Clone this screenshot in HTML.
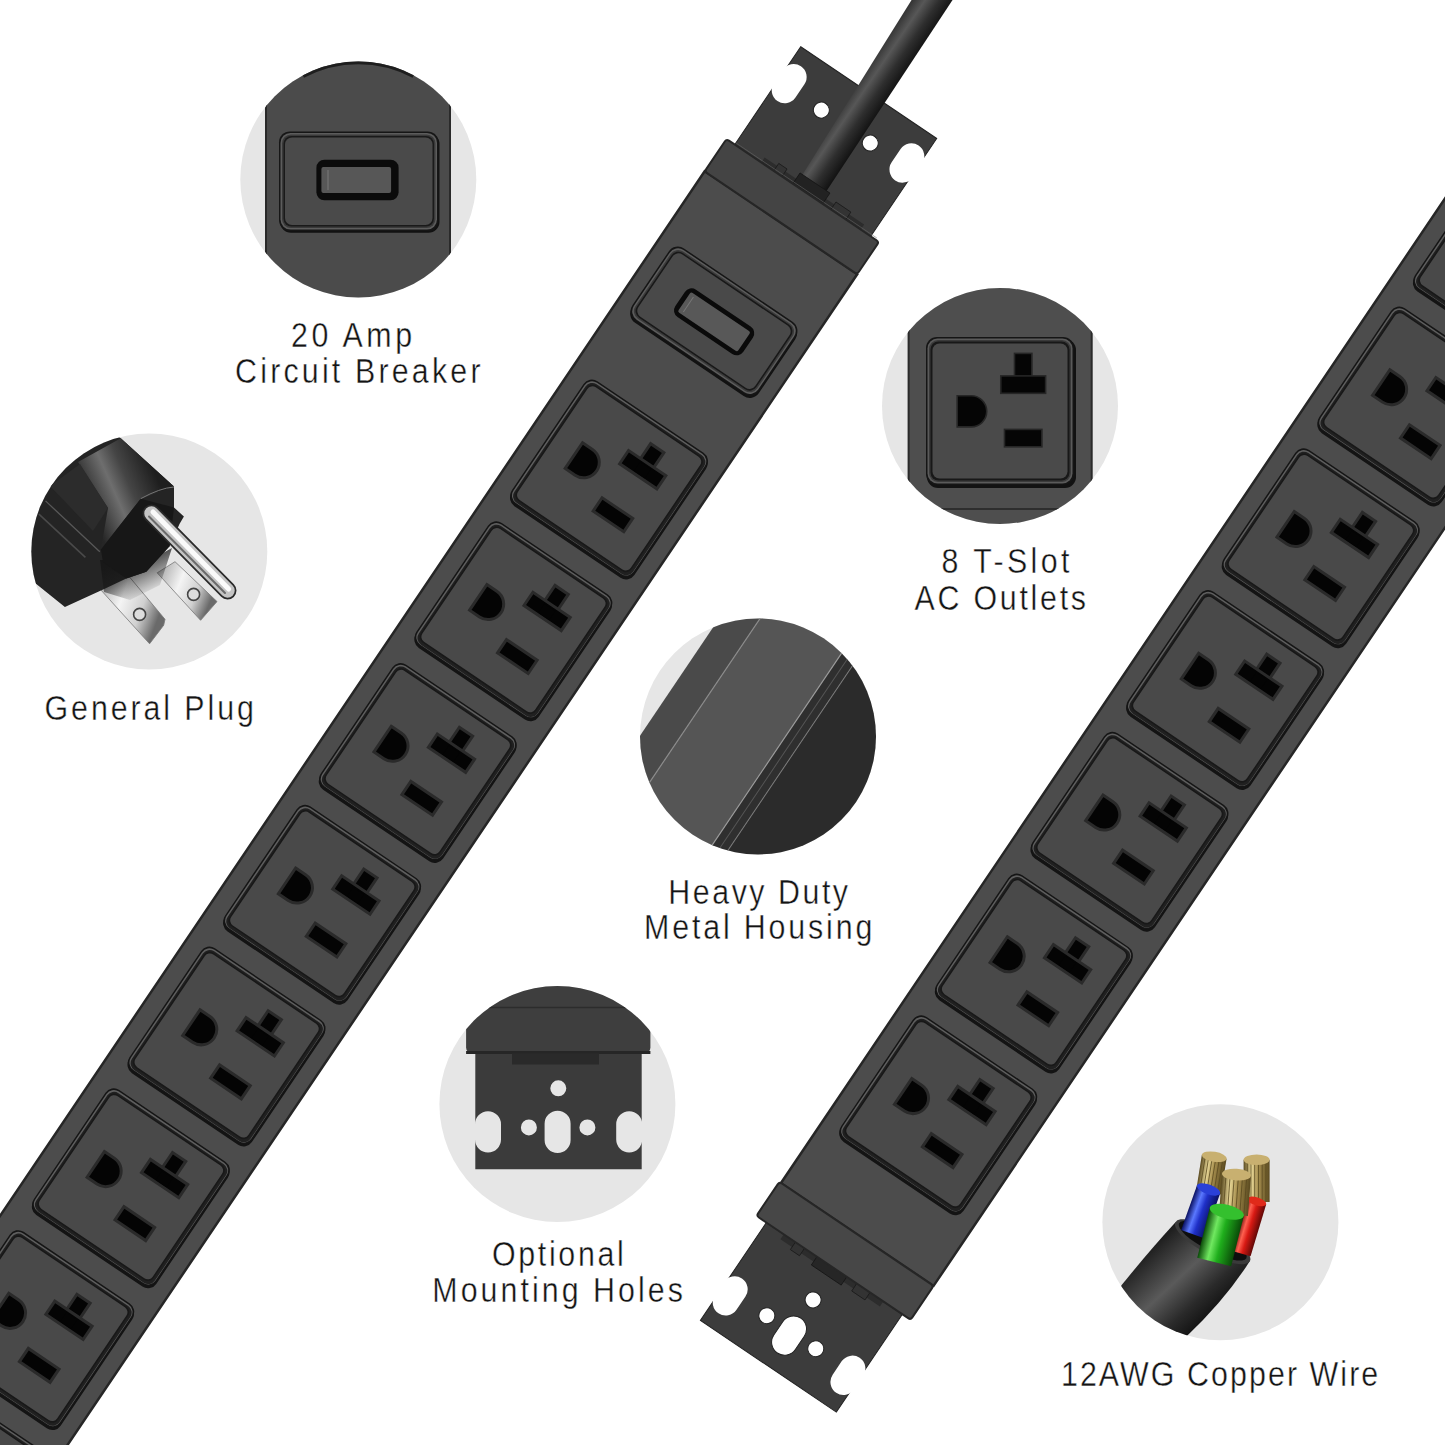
<!DOCTYPE html><html><head><meta charset="utf-8"><style>html,body{margin:0;padding:0;background:#fff;}body{width:1445px;height:1445px;overflow:hidden;font-family:"Liberation Sans",sans-serif;}svg{display:block}</style></head><body><svg width="1445" height="1445" viewBox="0 0 1445 1445">
<rect width="1445" height="1445" fill="#fff"/>
<defs><linearGradient id="cordg" x1="0" y1="0" x2="1" y2="0"><stop offset="0" stop-color="#151515"/><stop offset="0.12" stop-color="#2e2e2e"/><stop offset="0.42" stop-color="#575757"/><stop offset="0.7" stop-color="#2e2e2e"/><stop offset="1" stop-color="#121212"/></linearGradient></defs>
<g transform="rotate(34)">
<path d="M690.0,-409 H854.0 V-291 H690.0 Z M734.5,-368 a8,8 0 1 0 16,0 a8,8 0 1 0 -16,0 Z M793.5,-368 a8,8 0 1 0 16,0 a8,8 0 1 0 -16,0 Z" fill="#3c3c3c" fill-rule="evenodd" stroke="#222" stroke-width="1"/><path d=" M688.0,-380 a13,13 0 0 1 26,0 V-364 a13,13 0 0 1 -26,0 Z M830.0,-380 a13,13 0 0 1 26,0 V-364 a13,13 0 0 1 -26,0 Z" fill="#ffffff"/>
<path d="M763,-303 L749,-700 L788,-700 L792,-303 Z" fill="url(#cordg)"/>
<rect x="722" y="-297" width="120" height="6" fill="#2c2c2c"/>
<rect x="737" y="-300" width="10" height="9" fill="#333" stroke="#1a1a1a" stroke-width="0.8"/>
<rect x="760" y="-304" width="36" height="13" fill="#222" stroke="#151515" stroke-width="0.8"/>
<rect x="806" y="-300" width="18" height="9" fill="#333" stroke="#1a1a1a" stroke-width="0.8"/>
<line x1="690" y1="-293" x2="860" y2="-293" stroke="#6a6a6a" stroke-width="0.8" opacity="0.6"/>
<rect x="680" y="-252" width="184" height="1700" fill="#4c4c4c" stroke="#262626" stroke-width="2.5"/>
<rect x="680" y="-291" width="184" height="39" rx="3" fill="#444444" stroke="#262626" stroke-width="2"/>
<g transform="translate(772,-132.5)"><rect x="-76" y="-42" width="153" height="87" rx="11" fill="#121212"/><rect x="-77" y="-44" width="153" height="87" rx="11" fill="#151515"/><rect x="-75.5" y="-42.5" width="150" height="84" rx="10" fill="#5c5c5c"/><rect x="-74" y="-41" width="147" height="81" rx="9" fill="#3a3a3a"/><rect x="-72.5" y="-39.5" width="144" height="78" rx="8" fill="#181818"/><rect x="-71" y="-38" width="141" height="75" rx="7" fill="#494949"/><rect x="-41" y="-16.5" width="82" height="33" rx="8" fill="#0a0a0a"/><rect x="-36" y="-12" width="72" height="24" rx="2" fill="#585858"/><line x1="-31" y1="-9" x2="-31" y2="9" stroke="#777" stroke-width="1"/></g>
<g transform="translate(772.5,56) scale(1.0,1.0)"><rect x="-73" y="-72" width="148" height="148" rx="10" fill="#141414"/><rect x="-74" y="-74" width="148" height="148" rx="10" fill="#151515"/><rect x="-72.5" y="-72.5" width="145" height="145" rx="9" fill="#5e5e5e"/><rect x="-71" y="-71" width="143" height="143" rx="8" fill="#202020"/><rect x="-69.5" y="-69.5" width="139" height="139" rx="7" fill="#181818"/><rect x="-68" y="-68" width="136" height="136" rx="6" fill="#494949"/><path d="M-42,-14.7 h12 a15.5,15.5 0 0 1 0,31 h-12 z" fill="#040404" stroke="#2a2a2a" stroke-width="3"/><rect x="15" y="-52" width="16" height="23" fill="#040404" stroke="#2a2a2a" stroke-width="3"/><rect x="0.5" y="-34" width="45" height="16" fill="#040404" stroke="#2a2a2a" stroke-width="3"/><rect x="16.5" y="-31" width="13" height="11" fill="#040404"/><rect x="5" y="20" width="37" height="16" fill="#040404" stroke="#2a2a2a" stroke-width="3"/></g>
<g transform="translate(772.5,227) scale(1.0,1.0)"><rect x="-73" y="-72" width="148" height="148" rx="10" fill="#141414"/><rect x="-74" y="-74" width="148" height="148" rx="10" fill="#151515"/><rect x="-72.5" y="-72.5" width="145" height="145" rx="9" fill="#5e5e5e"/><rect x="-71" y="-71" width="143" height="143" rx="8" fill="#202020"/><rect x="-69.5" y="-69.5" width="139" height="139" rx="7" fill="#181818"/><rect x="-68" y="-68" width="136" height="136" rx="6" fill="#494949"/><path d="M-42,-14.7 h12 a15.5,15.5 0 0 1 0,31 h-12 z" fill="#040404" stroke="#2a2a2a" stroke-width="3"/><rect x="15" y="-52" width="16" height="23" fill="#040404" stroke="#2a2a2a" stroke-width="3"/><rect x="0.5" y="-34" width="45" height="16" fill="#040404" stroke="#2a2a2a" stroke-width="3"/><rect x="16.5" y="-31" width="13" height="11" fill="#040404"/><rect x="5" y="20" width="37" height="16" fill="#040404" stroke="#2a2a2a" stroke-width="3"/></g>
<g transform="translate(772.5,398) scale(1.0,1.0)"><rect x="-73" y="-72" width="148" height="148" rx="10" fill="#141414"/><rect x="-74" y="-74" width="148" height="148" rx="10" fill="#151515"/><rect x="-72.5" y="-72.5" width="145" height="145" rx="9" fill="#5e5e5e"/><rect x="-71" y="-71" width="143" height="143" rx="8" fill="#202020"/><rect x="-69.5" y="-69.5" width="139" height="139" rx="7" fill="#181818"/><rect x="-68" y="-68" width="136" height="136" rx="6" fill="#494949"/><path d="M-42,-14.7 h12 a15.5,15.5 0 0 1 0,31 h-12 z" fill="#040404" stroke="#2a2a2a" stroke-width="3"/><rect x="15" y="-52" width="16" height="23" fill="#040404" stroke="#2a2a2a" stroke-width="3"/><rect x="0.5" y="-34" width="45" height="16" fill="#040404" stroke="#2a2a2a" stroke-width="3"/><rect x="16.5" y="-31" width="13" height="11" fill="#040404"/><rect x="5" y="20" width="37" height="16" fill="#040404" stroke="#2a2a2a" stroke-width="3"/></g>
<g transform="translate(772.5,569) scale(1.0,1.0)"><rect x="-73" y="-72" width="148" height="148" rx="10" fill="#141414"/><rect x="-74" y="-74" width="148" height="148" rx="10" fill="#151515"/><rect x="-72.5" y="-72.5" width="145" height="145" rx="9" fill="#5e5e5e"/><rect x="-71" y="-71" width="143" height="143" rx="8" fill="#202020"/><rect x="-69.5" y="-69.5" width="139" height="139" rx="7" fill="#181818"/><rect x="-68" y="-68" width="136" height="136" rx="6" fill="#494949"/><path d="M-42,-14.7 h12 a15.5,15.5 0 0 1 0,31 h-12 z" fill="#040404" stroke="#2a2a2a" stroke-width="3"/><rect x="15" y="-52" width="16" height="23" fill="#040404" stroke="#2a2a2a" stroke-width="3"/><rect x="0.5" y="-34" width="45" height="16" fill="#040404" stroke="#2a2a2a" stroke-width="3"/><rect x="16.5" y="-31" width="13" height="11" fill="#040404"/><rect x="5" y="20" width="37" height="16" fill="#040404" stroke="#2a2a2a" stroke-width="3"/></g>
<g transform="translate(772.5,740) scale(1.0,1.0)"><rect x="-73" y="-72" width="148" height="148" rx="10" fill="#141414"/><rect x="-74" y="-74" width="148" height="148" rx="10" fill="#151515"/><rect x="-72.5" y="-72.5" width="145" height="145" rx="9" fill="#5e5e5e"/><rect x="-71" y="-71" width="143" height="143" rx="8" fill="#202020"/><rect x="-69.5" y="-69.5" width="139" height="139" rx="7" fill="#181818"/><rect x="-68" y="-68" width="136" height="136" rx="6" fill="#494949"/><path d="M-42,-14.7 h12 a15.5,15.5 0 0 1 0,31 h-12 z" fill="#040404" stroke="#2a2a2a" stroke-width="3"/><rect x="15" y="-52" width="16" height="23" fill="#040404" stroke="#2a2a2a" stroke-width="3"/><rect x="0.5" y="-34" width="45" height="16" fill="#040404" stroke="#2a2a2a" stroke-width="3"/><rect x="16.5" y="-31" width="13" height="11" fill="#040404"/><rect x="5" y="20" width="37" height="16" fill="#040404" stroke="#2a2a2a" stroke-width="3"/></g>
<g transform="translate(772.5,911) scale(1.0,1.0)"><rect x="-73" y="-72" width="148" height="148" rx="10" fill="#141414"/><rect x="-74" y="-74" width="148" height="148" rx="10" fill="#151515"/><rect x="-72.5" y="-72.5" width="145" height="145" rx="9" fill="#5e5e5e"/><rect x="-71" y="-71" width="143" height="143" rx="8" fill="#202020"/><rect x="-69.5" y="-69.5" width="139" height="139" rx="7" fill="#181818"/><rect x="-68" y="-68" width="136" height="136" rx="6" fill="#494949"/><path d="M-42,-14.7 h12 a15.5,15.5 0 0 1 0,31 h-12 z" fill="#040404" stroke="#2a2a2a" stroke-width="3"/><rect x="15" y="-52" width="16" height="23" fill="#040404" stroke="#2a2a2a" stroke-width="3"/><rect x="0.5" y="-34" width="45" height="16" fill="#040404" stroke="#2a2a2a" stroke-width="3"/><rect x="16.5" y="-31" width="13" height="11" fill="#040404"/><rect x="5" y="20" width="37" height="16" fill="#040404" stroke="#2a2a2a" stroke-width="3"/></g>
<g transform="translate(772.5,1082) scale(1.0,1.0)"><rect x="-73" y="-72" width="148" height="148" rx="10" fill="#141414"/><rect x="-74" y="-74" width="148" height="148" rx="10" fill="#151515"/><rect x="-72.5" y="-72.5" width="145" height="145" rx="9" fill="#5e5e5e"/><rect x="-71" y="-71" width="143" height="143" rx="8" fill="#202020"/><rect x="-69.5" y="-69.5" width="139" height="139" rx="7" fill="#181818"/><rect x="-68" y="-68" width="136" height="136" rx="6" fill="#494949"/><path d="M-42,-14.7 h12 a15.5,15.5 0 0 1 0,31 h-12 z" fill="#040404" stroke="#2a2a2a" stroke-width="3"/><rect x="15" y="-52" width="16" height="23" fill="#040404" stroke="#2a2a2a" stroke-width="3"/><rect x="0.5" y="-34" width="45" height="16" fill="#040404" stroke="#2a2a2a" stroke-width="3"/><rect x="16.5" y="-31" width="13" height="11" fill="#040404"/><rect x="5" y="20" width="37" height="16" fill="#040404" stroke="#2a2a2a" stroke-width="3"/></g>
<g transform="translate(772.5,1253) scale(1.0,1.0)"><rect x="-73" y="-72" width="148" height="148" rx="10" fill="#141414"/><rect x="-74" y="-74" width="148" height="148" rx="10" fill="#151515"/><rect x="-72.5" y="-72.5" width="145" height="145" rx="9" fill="#5e5e5e"/><rect x="-71" y="-71" width="143" height="143" rx="8" fill="#202020"/><rect x="-69.5" y="-69.5" width="139" height="139" rx="7" fill="#181818"/><rect x="-68" y="-68" width="136" height="136" rx="6" fill="#494949"/><path d="M-42,-14.7 h12 a15.5,15.5 0 0 1 0,31 h-12 z" fill="#040404" stroke="#2a2a2a" stroke-width="3"/><rect x="15" y="-52" width="16" height="23" fill="#040404" stroke="#2a2a2a" stroke-width="3"/><rect x="0.5" y="-34" width="45" height="16" fill="#040404" stroke="#2a2a2a" stroke-width="3"/><rect x="16.5" y="-31" width="13" height="11" fill="#040404"/><rect x="5" y="20" width="37" height="16" fill="#040404" stroke="#2a2a2a" stroke-width="3"/></g>
<path d="M1319.0,585 H1483.0 V703 H1319.0 Z M1363.5,662 a8,8 0 1 0 16,0 a8,8 0 1 0 -16,0 Z M1422.5,662 a8,8 0 1 0 16,0 a8,8 0 1 0 -16,0 Z M1393,623 a8,8 0 1 0 16,0 a8,8 0 1 0 -16,0 Z M1388,658 a13,13 0 0 1 26,0 V674 a13,13 0 0 1 -26,0 Z" fill="#3c3c3c" fill-rule="evenodd" stroke="#222" stroke-width="1"/><path d=" M1317.0,658 a13,13 0 0 1 26,0 V674 a13,13 0 0 1 -26,0 Z M1459.0,658 a13,13 0 0 1 26,0 V674 a13,13 0 0 1 -26,0 Z" fill="#ffffff"/>
<rect x="1340" y="585" width="120" height="6" fill="#2c2c2c"/>
<rect x="1354" y="585" width="11" height="9" fill="#333" stroke="#1a1a1a" stroke-width="0.8"/>
<rect x="1380" y="585" width="36" height="10" fill="#262626" stroke="#151515" stroke-width="0.8"/>
<rect x="1428" y="585" width="16" height="9" fill="#333" stroke="#1a1a1a" stroke-width="0.8"/>
<rect x="1309" y="-1200" width="184" height="1744" fill="#4c4c4c" stroke="#262626" stroke-width="2.5"/>
<rect x="1307" y="544" width="186" height="41" rx="3" fill="#474747" stroke="#262626" stroke-width="2"/>
<g transform="translate(1401,399) scale(1.0,1.0)"><rect x="-73" y="-72" width="148" height="148" rx="10" fill="#141414"/><rect x="-74" y="-74" width="148" height="148" rx="10" fill="#151515"/><rect x="-72.5" y="-72.5" width="145" height="145" rx="9" fill="#5e5e5e"/><rect x="-71" y="-71" width="143" height="143" rx="8" fill="#202020"/><rect x="-69.5" y="-69.5" width="139" height="139" rx="7" fill="#181818"/><rect x="-68" y="-68" width="136" height="136" rx="6" fill="#494949"/><path d="M-42,-14.7 h12 a15.5,15.5 0 0 1 0,31 h-12 z" fill="#040404" stroke="#2a2a2a" stroke-width="3"/><rect x="15" y="-52" width="16" height="23" fill="#040404" stroke="#2a2a2a" stroke-width="3"/><rect x="0.5" y="-34" width="45" height="16" fill="#040404" stroke="#2a2a2a" stroke-width="3"/><rect x="16.5" y="-31" width="13" height="11" fill="#040404"/><rect x="5" y="20" width="37" height="16" fill="#040404" stroke="#2a2a2a" stroke-width="3"/></g>
<g transform="translate(1401,228) scale(1.0,1.0)"><rect x="-73" y="-72" width="148" height="148" rx="10" fill="#141414"/><rect x="-74" y="-74" width="148" height="148" rx="10" fill="#151515"/><rect x="-72.5" y="-72.5" width="145" height="145" rx="9" fill="#5e5e5e"/><rect x="-71" y="-71" width="143" height="143" rx="8" fill="#202020"/><rect x="-69.5" y="-69.5" width="139" height="139" rx="7" fill="#181818"/><rect x="-68" y="-68" width="136" height="136" rx="6" fill="#494949"/><path d="M-42,-14.7 h12 a15.5,15.5 0 0 1 0,31 h-12 z" fill="#040404" stroke="#2a2a2a" stroke-width="3"/><rect x="15" y="-52" width="16" height="23" fill="#040404" stroke="#2a2a2a" stroke-width="3"/><rect x="0.5" y="-34" width="45" height="16" fill="#040404" stroke="#2a2a2a" stroke-width="3"/><rect x="16.5" y="-31" width="13" height="11" fill="#040404"/><rect x="5" y="20" width="37" height="16" fill="#040404" stroke="#2a2a2a" stroke-width="3"/></g>
<g transform="translate(1401,57) scale(1.0,1.0)"><rect x="-73" y="-72" width="148" height="148" rx="10" fill="#141414"/><rect x="-74" y="-74" width="148" height="148" rx="10" fill="#151515"/><rect x="-72.5" y="-72.5" width="145" height="145" rx="9" fill="#5e5e5e"/><rect x="-71" y="-71" width="143" height="143" rx="8" fill="#202020"/><rect x="-69.5" y="-69.5" width="139" height="139" rx="7" fill="#181818"/><rect x="-68" y="-68" width="136" height="136" rx="6" fill="#494949"/><path d="M-42,-14.7 h12 a15.5,15.5 0 0 1 0,31 h-12 z" fill="#040404" stroke="#2a2a2a" stroke-width="3"/><rect x="15" y="-52" width="16" height="23" fill="#040404" stroke="#2a2a2a" stroke-width="3"/><rect x="0.5" y="-34" width="45" height="16" fill="#040404" stroke="#2a2a2a" stroke-width="3"/><rect x="16.5" y="-31" width="13" height="11" fill="#040404"/><rect x="5" y="20" width="37" height="16" fill="#040404" stroke="#2a2a2a" stroke-width="3"/></g>
<g transform="translate(1401,-114) scale(1.0,1.0)"><rect x="-73" y="-72" width="148" height="148" rx="10" fill="#141414"/><rect x="-74" y="-74" width="148" height="148" rx="10" fill="#151515"/><rect x="-72.5" y="-72.5" width="145" height="145" rx="9" fill="#5e5e5e"/><rect x="-71" y="-71" width="143" height="143" rx="8" fill="#202020"/><rect x="-69.5" y="-69.5" width="139" height="139" rx="7" fill="#181818"/><rect x="-68" y="-68" width="136" height="136" rx="6" fill="#494949"/><path d="M-42,-14.7 h12 a15.5,15.5 0 0 1 0,31 h-12 z" fill="#040404" stroke="#2a2a2a" stroke-width="3"/><rect x="15" y="-52" width="16" height="23" fill="#040404" stroke="#2a2a2a" stroke-width="3"/><rect x="0.5" y="-34" width="45" height="16" fill="#040404" stroke="#2a2a2a" stroke-width="3"/><rect x="16.5" y="-31" width="13" height="11" fill="#040404"/><rect x="5" y="20" width="37" height="16" fill="#040404" stroke="#2a2a2a" stroke-width="3"/></g>
<g transform="translate(1401,-285) scale(1.0,1.0)"><rect x="-73" y="-72" width="148" height="148" rx="10" fill="#141414"/><rect x="-74" y="-74" width="148" height="148" rx="10" fill="#151515"/><rect x="-72.5" y="-72.5" width="145" height="145" rx="9" fill="#5e5e5e"/><rect x="-71" y="-71" width="143" height="143" rx="8" fill="#202020"/><rect x="-69.5" y="-69.5" width="139" height="139" rx="7" fill="#181818"/><rect x="-68" y="-68" width="136" height="136" rx="6" fill="#494949"/><path d="M-42,-14.7 h12 a15.5,15.5 0 0 1 0,31 h-12 z" fill="#040404" stroke="#2a2a2a" stroke-width="3"/><rect x="15" y="-52" width="16" height="23" fill="#040404" stroke="#2a2a2a" stroke-width="3"/><rect x="0.5" y="-34" width="45" height="16" fill="#040404" stroke="#2a2a2a" stroke-width="3"/><rect x="16.5" y="-31" width="13" height="11" fill="#040404"/><rect x="5" y="20" width="37" height="16" fill="#040404" stroke="#2a2a2a" stroke-width="3"/></g>
<g transform="translate(1401,-456) scale(1.0,1.0)"><rect x="-73" y="-72" width="148" height="148" rx="10" fill="#141414"/><rect x="-74" y="-74" width="148" height="148" rx="10" fill="#151515"/><rect x="-72.5" y="-72.5" width="145" height="145" rx="9" fill="#5e5e5e"/><rect x="-71" y="-71" width="143" height="143" rx="8" fill="#202020"/><rect x="-69.5" y="-69.5" width="139" height="139" rx="7" fill="#181818"/><rect x="-68" y="-68" width="136" height="136" rx="6" fill="#494949"/><path d="M-42,-14.7 h12 a15.5,15.5 0 0 1 0,31 h-12 z" fill="#040404" stroke="#2a2a2a" stroke-width="3"/><rect x="15" y="-52" width="16" height="23" fill="#040404" stroke="#2a2a2a" stroke-width="3"/><rect x="0.5" y="-34" width="45" height="16" fill="#040404" stroke="#2a2a2a" stroke-width="3"/><rect x="16.5" y="-31" width="13" height="11" fill="#040404"/><rect x="5" y="20" width="37" height="16" fill="#040404" stroke="#2a2a2a" stroke-width="3"/></g>
<g transform="translate(1401,-627) scale(1.0,1.0)"><rect x="-73" y="-72" width="148" height="148" rx="10" fill="#141414"/><rect x="-74" y="-74" width="148" height="148" rx="10" fill="#151515"/><rect x="-72.5" y="-72.5" width="145" height="145" rx="9" fill="#5e5e5e"/><rect x="-71" y="-71" width="143" height="143" rx="8" fill="#202020"/><rect x="-69.5" y="-69.5" width="139" height="139" rx="7" fill="#181818"/><rect x="-68" y="-68" width="136" height="136" rx="6" fill="#494949"/><path d="M-42,-14.7 h12 a15.5,15.5 0 0 1 0,31 h-12 z" fill="#040404" stroke="#2a2a2a" stroke-width="3"/><rect x="15" y="-52" width="16" height="23" fill="#040404" stroke="#2a2a2a" stroke-width="3"/><rect x="0.5" y="-34" width="45" height="16" fill="#040404" stroke="#2a2a2a" stroke-width="3"/><rect x="16.5" y="-31" width="13" height="11" fill="#040404"/><rect x="5" y="20" width="37" height="16" fill="#040404" stroke="#2a2a2a" stroke-width="3"/></g>
<g transform="translate(1401,-798) scale(1.0,1.0)"><rect x="-73" y="-72" width="148" height="148" rx="10" fill="#141414"/><rect x="-74" y="-74" width="148" height="148" rx="10" fill="#151515"/><rect x="-72.5" y="-72.5" width="145" height="145" rx="9" fill="#5e5e5e"/><rect x="-71" y="-71" width="143" height="143" rx="8" fill="#202020"/><rect x="-69.5" y="-69.5" width="139" height="139" rx="7" fill="#181818"/><rect x="-68" y="-68" width="136" height="136" rx="6" fill="#494949"/><path d="M-42,-14.7 h12 a15.5,15.5 0 0 1 0,31 h-12 z" fill="#040404" stroke="#2a2a2a" stroke-width="3"/><rect x="15" y="-52" width="16" height="23" fill="#040404" stroke="#2a2a2a" stroke-width="3"/><rect x="0.5" y="-34" width="45" height="16" fill="#040404" stroke="#2a2a2a" stroke-width="3"/><rect x="16.5" y="-31" width="13" height="11" fill="#040404"/><rect x="5" y="20" width="37" height="16" fill="#040404" stroke="#2a2a2a" stroke-width="3"/></g>
</g>
<defs><clipPath id="c1"><circle cx="358.3" cy="179.6" r="118"/></clipPath><clipPath id="c2"><circle cx="149.3" cy="551.5" r="118"/></clipPath><clipPath id="c3"><circle cx="1000" cy="406" r="118"/></clipPath><clipPath id="c4"><circle cx="758" cy="736.4" r="118"/></clipPath><clipPath id="c5"><circle cx="557.4" cy="1104" r="118"/></clipPath><clipPath id="c6"><circle cx="1220.4" cy="1222.3" r="118"/></clipPath><linearGradient id="silver" x1="0" y1="0" x2="1" y2="0"><stop offset="0" stop-color="#8a8a8a"/><stop offset="0.35" stop-color="#f2f2f2"/><stop offset="0.6" stop-color="#bdbdbd"/><stop offset="1" stop-color="#5a5a5a"/></linearGradient><linearGradient id="jacket" x1="0" y1="0" x2="1" y2="1"><stop offset="0" stop-color="#1a1a1a"/><stop offset="0.5" stop-color="#4a4a4a"/><stop offset="1" stop-color="#151515"/></linearGradient></defs>
<g clip-path="url(#c1)">
<rect x="230" y="55" width="260" height="250" fill="#e6e6e6"/>
<rect x="266" y="55" width="184" height="250" fill="#4b4b4b" stroke="#2a2a2a" stroke-width="2"/>
<rect x="280" y="133" width="159.5" height="99.7" rx="11" fill="#121212"/>
<rect x="279" y="131.4" width="159.5" height="99.7" rx="11" fill="#161616"/>
<rect x="280.5" y="132.9" width="156.5" height="96.7" rx="10" fill="#5c5c5c"/>
<rect x="282" y="134.4" width="153.5" height="93.7" rx="9" fill="#3a3a3a"/>
<rect x="283.5" y="135.9" width="150.5" height="90.7" rx="8" fill="#1a1a1a"/>
<rect x="285" y="137.4" width="147.5" height="87.7" rx="7" fill="#4a4a4a"/>
<rect x="316.4" y="159.7" width="82.2" height="40.6" rx="8" fill="#0b0b0b"/>
<rect x="321.4" y="167.1" width="69.7" height="25.8" rx="2" fill="#575757"/>
<line x1="328" y1="170" x2="328" y2="190" stroke="#7a7a7a" stroke-width="1"/>
<path d="M303.1,75.9 A117.5,117.5 0 0 1 413.5,75.9" stroke="#1e1e1e" stroke-width="4" fill="none"/>
</g>
<defs><linearGradient id="plugneck" x1="0" y1="0" x2="0.3" y2="1"><stop offset="0" stop-color="#2a2a2a"/><stop offset="0.35" stop-color="#555"/><stop offset="0.7" stop-color="#3a3a3a"/><stop offset="1" stop-color="#1e1e1e"/></linearGradient><linearGradient id="blade" x1="0" y1="0" x2="1" y2="0.4"><stop offset="0" stop-color="#9a9a9a"/><stop offset="0.45" stop-color="#f4f4f4"/><stop offset="0.75" stop-color="#d0d0d0"/><stop offset="1" stop-color="#6a6a6a"/></linearGradient><linearGradient id="shadowfade" x1="0" y1="0" x2="0.2" y2="1"><stop offset="0" stop-color="#1a1a1a" stop-opacity="1"/><stop offset="1" stop-color="#1a1a1a" stop-opacity="0"/></linearGradient></defs>
<g clip-path="url(#c2)">
<rect x="25" y="430" width="250" height="250" fill="#e6e6e6"/>
<polygon points="96.4,585.0 124.2,570.7 165.0,619.3 163.7,625.2 149.6,643.8" fill="url(#blade)" stroke="#777" stroke-width="0.8"/>
<polygon points="157.2,572.8 175.0,561.7 217.0,601.6 200.6,620.3" fill="url(#blade)" stroke="#777" stroke-width="0.8"/>
<circle cx="139.6" cy="614.4" r="6" fill="#ddd" stroke="#444" stroke-width="1.6"/>
<circle cx="193.6" cy="594.4" r="6" fill="#ddd" stroke="#444" stroke-width="1.6"/>
<defs><linearGradient id="neckg" gradientUnits="userSpaceOnUse" x1="82" y1="492" x2="150" y2="462"><stop offset="0" stop-color="#262626"/><stop offset="0.4" stop-color="#6e6e6e"/><stop offset="0.62" stop-color="#454545"/><stop offset="1" stop-color="#1e1e1e"/></linearGradient><linearGradient id="rootsh" gradientUnits="userSpaceOnUse" x1="120" y1="560" x2="140" y2="600"><stop offset="0" stop-color="#181818" stop-opacity="1"/><stop offset="1" stop-color="#181818" stop-opacity="0"/></linearGradient></defs>
<polygon points="120.8,438.3 174.0,486.5 174.0,507.5 183.9,516.4 179.5,524.1 169.5,546.3 146.3,571.7 126.3,578.4 103.1,589.4 64.9,606.9 25.0,575.0 25.0,430.0 110.0,430.0" fill="#242424"/>
<polygon points="100.0,560.0 150.0,560.0 172.0,548.0 160.0,585.0 130.0,600.0 104.0,592.0" fill="url(#rootsh)"/>
<polygon points="78.0,462.0 120.8,438.3 174.0,486.5 140.7,498.7 100.9,549.6 108.0,508.0" fill="url(#neckg)"/>
<polygon points="50.0,486.0 80.0,464.0 108.0,508.0 93.0,531.0" fill="#2c2c2c"/>
<line x1="45.5" y1="500.9" x2="99.8" y2="551.8" stroke="#585858" stroke-width="1.3"/>
<line x1="38.9" y1="514.2" x2="85.4" y2="557.4" stroke="#4a4a4a" stroke-width="1.6"/>
<polygon points="140.7,498.7 174.0,507.5 169.5,546.3 146.3,571.7 126.3,578.4 103.0,562.0 100.9,549.6" fill="#171717"/>
<path d="M140.7,498.7 Q160,488 174,487" stroke="#777" stroke-width="1" fill="none"/>
<path d="M151.5,513.5 L227.5,590.5" stroke="#2a2a2a" stroke-width="18" stroke-linecap="round"/>
<path d="M151.5,513.5 L227.5,590.5" stroke="#c4c4c4" stroke-width="14.5" stroke-linecap="round"/>
<path d="M153.0,512.0 L228.7,589.0" stroke="#fafafa" stroke-width="5" stroke-linecap="round"/>
<path d="M149.0,516.5 L225.0,593.0" stroke="#6a6a6a" stroke-width="2" stroke-linecap="round"/>
</g>
<g clip-path="url(#c3)">
<rect x="870" y="280" width="260" height="260" fill="#e6e6e6"/>
<rect x="908.6" y="280" width="183.1" height="260" fill="#4e4e4e" stroke="#2a2a2a" stroke-width="2"/>
<line x1="908" y1="509" x2="1092" y2="509" stroke="#2e2e2e" stroke-width="2"/>
<rect x="927" y="339" width="149" height="149" rx="11" fill="#121212"/>
<rect x="926" y="337" width="148" height="148" rx="11" fill="#151515"/>
<rect x="927.5" y="338.5" width="145" height="145" rx="10" fill="#5a5a5a"/>
<rect x="929" y="340" width="142" height="142" rx="9" fill="#3a3a3a"/>
<rect x="930.5" y="341.5" width="139" height="139" rx="8" fill="#181818"/>
<rect x="932.5" y="343.5" width="135" height="135" rx="7" fill="#4a4a4a"/>
<path d="M957.2,395.8 h14 a15.5,15.5 0 0 1 0,31.1 h-14 z" fill="#050505" stroke="#262626" stroke-width="1.6"/>
<rect x="1014.5" y="353.4" width="17.4" height="30" fill="#050505" stroke="#262626" stroke-width="1.6"/>
<rect x="1000.8" y="375.9" width="44.8" height="17.4" fill="#050505" stroke="#262626" stroke-width="1.6"/>
<rect x="1004.5" y="429.4" width="37.4" height="17.4" fill="#050505" stroke="#262626" stroke-width="1.6"/>
</g>
<g clip-path="url(#c4)">
<rect x="630" y="610" width="260" height="260" fill="#e6e6e6"/>
<g transform="rotate(34)">
<rect x="942" y="0" width="34" height="400" fill="#4a4a4a"/>
<rect x="976" y="0" width="87" height="400" fill="#555555"/>
<rect x="1063" y="0" width="16" height="400" fill="#2f2f2f"/>
<rect x="1079" y="0" width="80" height="400" fill="#2b2b2b"/>
<line x1="976" y1="0" x2="976" y2="400" stroke="#8a8a8a" stroke-width="1.2"/>
<line x1="1063" y1="0" x2="1063" y2="400" stroke="#9a9a9a" stroke-width="1.2"/>
<line x1="1071" y1="0" x2="1071" y2="400" stroke="#555" stroke-width="1"/>
<line x1="1079" y1="0" x2="1079" y2="400" stroke="#777" stroke-width="1"/>
</g></g>
<g clip-path="url(#c5)">
<rect x="430" y="980" width="260" height="250" fill="#e6e6e6"/>
<path d="M475.3,1053 H641.7 V1169.3 H475.3 Z M550.3,1088.3 a8,8 0 1 0 16,0 a8,8 0 1 0 -16,0 Z M520.9,1127.4 a8,8 0 1 0 16,0 a8,8 0 1 0 -16,0 Z M579.4,1127.4 a8,8 0 1 0 16,0 a8,8 0 1 0 -16,0 Z M544.6,1123.8 a13,13 0 0 1 26,0 V1140 a13,13 0 0 1 -26,0 Z" fill="#3b3b3b" fill-rule="evenodd"/>
<path d="M475,1124.3 a13,13 0 0 1 26,0 V1139.5 a13,13 0 0 1 -26,0 Z M616.2,1124.3 a13,13 0 0 1 26,0 V1139.5 a13,13 0 0 1 -26,0 Z" fill="#e6e6e6"/>
<rect x="466.1" y="960" width="184.3" height="93.5" rx="6" fill="#3e3e3e"/>
<line x1="466" y1="1007.4" x2="650" y2="1007.4" stroke="#2c2c2c" stroke-width="1.5"/>
<rect x="466.1" y="1051" width="184.3" height="3" fill="#262626"/>
<rect x="512" y="1053.5" width="87" height="11" fill="#2a2a2a"/>
</g>
<defs><linearGradient id="jk" gradientUnits="userSpaceOnUse" x1="1150" y1="1240" x2="1215" y2="1310"><stop offset="0" stop-color="#151515"/><stop offset="0.5" stop-color="#5a5a5a"/><stop offset="0.8" stop-color="#2a2a2a"/><stop offset="1" stop-color="#141414"/></linearGradient></defs>
<g clip-path="url(#c6)">
<rect x="1100" y="1100" width="245" height="245" fill="#e6e6e6"/>
<path d="M1175.5,1222.3 Q1150,1250 1121.9,1284.8 L1090,1330 L1150,1360 L1187.4,1335.4 Q1225,1300 1249.9,1261 Z" fill="url(#jk)"/>
<ellipse cx="1212.7" cy="1241.7" rx="42" ry="13" transform="rotate(27.5 1212.7 1241.7)" fill="#3a3a3a"/>
<ellipse cx="1212.7" cy="1240.7" rx="38" ry="10.5" transform="rotate(27.5 1212.7 1240.7)" fill="#0e0e0e"/>
<defs><linearGradient id="cg328738" x1="0" y1="0" x2="0" y2="1"><stop offset="0" stop-color="#5a4a20"/><stop offset="0.3" stop-color="#e8d898"/><stop offset="0.55" stop-color="#a89050"/><stop offset="1" stop-color="#5a4a20"/></linearGradient></defs><g transform="translate(1208.5,1192.5) rotate(-80.9)"><rect x="0" y="-12.5" width="36.2" height="25.0" fill="url(#cg328738)"/><line x1="0" y1="-8.9" x2="36.2" y2="-8.9" stroke="#5a4a20" stroke-width="1" opacity="0.8"/><line x1="0" y1="-5.4" x2="36.2" y2="-5.4" stroke="#5a4a20" stroke-width="1" opacity="0.8"/><line x1="0" y1="-1.8" x2="36.2" y2="-1.8" stroke="#5a4a20" stroke-width="1" opacity="0.8"/><line x1="0" y1="1.8" x2="36.2" y2="1.8" stroke="#5a4a20" stroke-width="1" opacity="0.8"/><line x1="0" y1="5.4" x2="36.2" y2="5.4" stroke="#5a4a20" stroke-width="1" opacity="0.8"/><line x1="0" y1="8.9" x2="36.2" y2="8.9" stroke="#5a4a20" stroke-width="1" opacity="0.8"/><ellipse cx="36.2" cy="0" rx="5.0" ry="12.5" fill="#c8b070"/></g>
<defs><linearGradient id="cg929425" x1="0" y1="0" x2="0" y2="1"><stop offset="0" stop-color="#0a1060"/><stop offset="0.3" stop-color="#5a78ff"/><stop offset="0.55" stop-color="#1f30c8"/><stop offset="1" stop-color="#0a1060"/></linearGradient></defs><g transform="translate(1192.6,1234.0) rotate(-70.3)"><rect x="0" y="-12.2" width="47.3" height="24.5" fill="url(#cg929425)"/><ellipse cx="47.3" cy="0" rx="4.9" ry="12.2" fill="#2a40d8"/></g>
<defs><linearGradient id="cg189407" x1="0" y1="0" x2="0" y2="1"><stop offset="0" stop-color="#5a4a20"/><stop offset="0.3" stop-color="#e8d898"/><stop offset="0.55" stop-color="#a89050"/><stop offset="1" stop-color="#5a4a20"/></linearGradient></defs><g transform="translate(1256.6,1202.0) rotate(-90.0)"><rect x="0" y="-13.0" width="42.2" height="26.0" fill="url(#cg189407)"/><line x1="0" y1="-9.3" x2="42.2" y2="-9.3" stroke="#5a4a20" stroke-width="1" opacity="0.8"/><line x1="0" y1="-5.6" x2="42.2" y2="-5.6" stroke="#5a4a20" stroke-width="1" opacity="0.8"/><line x1="0" y1="-1.9" x2="42.2" y2="-1.9" stroke="#5a4a20" stroke-width="1" opacity="0.8"/><line x1="0" y1="1.9" x2="42.2" y2="1.9" stroke="#5a4a20" stroke-width="1" opacity="0.8"/><line x1="0" y1="5.6" x2="42.2" y2="5.6" stroke="#5a4a20" stroke-width="1" opacity="0.8"/><line x1="0" y1="9.3" x2="42.2" y2="9.3" stroke="#5a4a20" stroke-width="1" opacity="0.8"/><ellipse cx="42.2" cy="0" rx="5.2" ry="13.0" fill="#c8b070"/></g>
<defs><linearGradient id="cg450352" x1="0" y1="0" x2="0" y2="1"><stop offset="0" stop-color="#600806"/><stop offset="0.3" stop-color="#ff6050"/><stop offset="0.55" stop-color="#d81a14"/><stop offset="1" stop-color="#600806"/></linearGradient></defs><g transform="translate(1241.0,1253.5) rotate(-73.3)"><rect x="0" y="-10.0" width="54.4" height="20.0" fill="url(#cg450352)"/><ellipse cx="54.4" cy="0" rx="4.0" ry="10.0" fill="#e02a1a"/></g>
<defs><linearGradient id="cg771633" x1="0" y1="0" x2="0" y2="1"><stop offset="0" stop-color="#5a4a20"/><stop offset="0.3" stop-color="#e8d898"/><stop offset="0.55" stop-color="#a89050"/><stop offset="1" stop-color="#5a4a20"/></linearGradient></defs><g transform="translate(1233.5,1215.0) rotate(-85.8)"><rect x="0" y="-14.5" width="40.5" height="29.0" fill="url(#cg771633)"/><line x1="0" y1="-10.4" x2="40.5" y2="-10.4" stroke="#5a4a20" stroke-width="1" opacity="0.8"/><line x1="0" y1="-6.2" x2="40.5" y2="-6.2" stroke="#5a4a20" stroke-width="1" opacity="0.8"/><line x1="0" y1="-2.1" x2="40.5" y2="-2.1" stroke="#5a4a20" stroke-width="1" opacity="0.8"/><line x1="0" y1="2.1" x2="40.5" y2="2.1" stroke="#5a4a20" stroke-width="1" opacity="0.8"/><line x1="0" y1="6.2" x2="40.5" y2="6.2" stroke="#5a4a20" stroke-width="1" opacity="0.8"/><line x1="0" y1="10.4" x2="40.5" y2="10.4" stroke="#5a4a20" stroke-width="1" opacity="0.8"/><ellipse cx="40.5" cy="0" rx="5.8" ry="14.5" fill="#c8b070"/></g>
<defs><linearGradient id="cg159716" x1="0" y1="0" x2="0" y2="1"><stop offset="0" stop-color="#0a4a08"/><stop offset="0.3" stop-color="#70e860"/><stop offset="0.55" stop-color="#1fae1c"/><stop offset="1" stop-color="#0a4a08"/></linearGradient></defs><g transform="translate(1214.2,1262.0) rotate(-75.9)"><rect x="0" y="-17.5" width="51.8" height="35.0" fill="url(#cg159716)"/><ellipse cx="51.8" cy="0" rx="7.0" ry="17.5" fill="#34c02e"/></g>
</g>
<g transform="translate(351.5,0) scale(0.88,1)"><text x="0" y="346.9" text-anchor="middle" font-family="Liberation Sans" font-size="34.5" fill="#141414" stroke="#fff" stroke-width="0.4" textLength="137.7" lengthAdjust="spacing">20 Amp</text></g>
<g transform="translate(357.8,0) scale(0.88,1)"><text x="0" y="382.9" text-anchor="middle" font-family="Liberation Sans" font-size="34.5" fill="#141414" stroke="#fff" stroke-width="0.4" textLength="278.9" lengthAdjust="spacing">Circuit Breaker</text></g>
<g transform="translate(149.2,0) scale(0.88,1)"><text x="0" y="719.9" text-anchor="middle" font-family="Liberation Sans" font-size="34.5" fill="#141414" stroke="#fff" stroke-width="0.4" textLength="237.8" lengthAdjust="spacing">General Plug</text></g>
<g transform="translate(1005.5,0) scale(0.88,1)"><text x="0" y="573.1" text-anchor="middle" font-family="Liberation Sans" font-size="34.5" fill="#141414" stroke="#fff" stroke-width="0.4" textLength="145.2" lengthAdjust="spacing">8 T-Slot</text></g>
<g transform="translate(1000.3,0) scale(0.88,1)"><text x="0" y="609.7" text-anchor="middle" font-family="Liberation Sans" font-size="34.5" fill="#141414" stroke="#fff" stroke-width="0.4" textLength="194.8" lengthAdjust="spacing">AC Outlets</text></g>
<g transform="translate(758.2,0) scale(0.88,1)"><text x="0" y="903.7" text-anchor="middle" font-family="Liberation Sans" font-size="34.5" fill="#141414" stroke="#fff" stroke-width="0.4" textLength="204.2" lengthAdjust="spacing">Heavy Duty</text></g>
<g transform="translate(758.2,0) scale(0.88,1)"><text x="0" y="939.1" text-anchor="middle" font-family="Liberation Sans" font-size="34.5" fill="#141414" stroke="#fff" stroke-width="0.4" textLength="259.4" lengthAdjust="spacing">Metal Housing</text></g>
<g transform="translate(557.9,0) scale(0.88,1)"><text x="0" y="1266.4" text-anchor="middle" font-family="Liberation Sans" font-size="34.5" fill="#141414" stroke="#fff" stroke-width="0.4" textLength="149.8" lengthAdjust="spacing">Optional</text></g>
<g transform="translate(557.6,0) scale(0.88,1)"><text x="0" y="1302.1" text-anchor="middle" font-family="Liberation Sans" font-size="34.5" fill="#141414" stroke="#fff" stroke-width="0.4" textLength="284.7" lengthAdjust="spacing">Mounting Holes</text></g>
<g transform="translate(1219.6,0) scale(0.88,1)"><text x="0" y="1386.5" text-anchor="middle" font-family="Liberation Sans" font-size="34.5" fill="#141414" stroke="#fff" stroke-width="0.4" textLength="360.6" lengthAdjust="spacing">12AWG Copper Wire</text></g>
</svg></body></html>
